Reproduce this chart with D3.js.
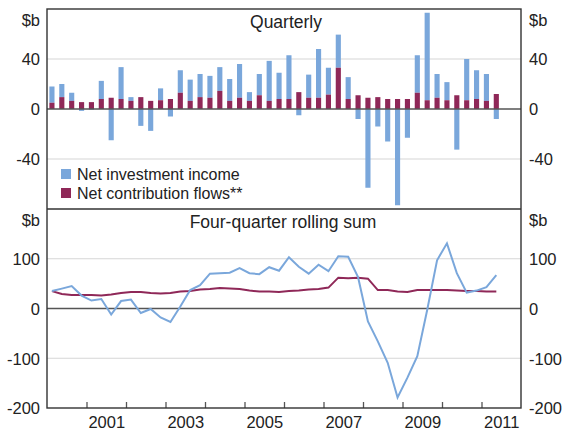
<!DOCTYPE html>
<html lang="en">
<head>
  <meta charset="UTF-8">
  <title>Net investment income and contribution flows</title>
  <script src="https://d3js.org/d3.v7.min.js"></script>
  <style>
    body {
      margin: 0;
      background-color: #fff;
      font-family: "Liberation Sans", Arial, sans-serif;
    }
    .tick text {
      fill: #222;
    }
  </style>
</head>
<body>

<div id="chart"></div>

<script>
  // Quarterly data, 2000 Q1 to 2011 Q2 ($b)
  const income = [13, 10.5, 6.5, -1.5, -0.5, 14.5, -25, 25.5, 3, -13.5, -17.5, 9.5,
    -6, 18, 17, 18.5, 17.5, 19, 17.5, 27, 7, 17, 32, 21,
    35, -5, 18.5, 39, 21.5, 26.5, 17.5, -8, -63, -14, -26, -77,
    -23, 30, 70, 19, 14.5, -32.5, 33, 23, 21.5, -8];
  const contrib = [5, 9.5, 6.5, 5.5, 5.5, 8, 9, 8, 6.5, 9.5, 6.5, 7,
    8, 13, 6.5, 9.5, 9, 14.5, 6.5, 9, 6.5, 11, 6.5, 8,
    8, 13.5, 9, 9, 11.5, 33, 8, 11, 9, 9.5, 8, 8,
    8, 13, 7, 9, 7, 11, 7, 8, 6.5, 12];

  // Four-quarter rolling sums ($b)
  const incomeSum = [35, 40, 45, 26, 16, 19, -12, 15, 18, -9, -1, -18,
    -27, 4, 37, 47, 70, 71, 72, 81, 71, 69, 83, 76,
    103, 84, 70, 88, 75, 105, 104, 63, -26, -66, -109, -179,
    -139, -96, -3, 97, 131, 71, 32, 36, 43, 67];
  const contribSum = [35, 29, 27, 27, 27, 26, 28, 31, 33, 33, 31, 30,
    31, 34, 35, 38, 39, 41, 40, 39, 36, 34, 34, 33,
    35, 36, 38, 39, 42, 62, 61, 62, 60, 37, 37, 34,
    33, 37, 37, 37, 37, 36, 35, 35, 34, 34];

  const yearTicks = [2001, 2002, 2003, 2004, 2005, 2006, 2007, 2008, 2009, 2010, 2011];
  const yearLabels = [2001, 2003, 2005, 2007, 2009, 2011];

  const width = 564;
  const height = 435;
  const left = 47, right = 521;
  const top1 = 9, mid = 209, bottom2 = 408;

  const blue = "#7aa7db";
  const maroon = "#8f2858";
  const fontSize = 16.5;

  const svg = d3.select("#chart")
    .append("svg")
    .attr("width", width)
    .attr("height", height)
    .style("font-family", "'Liberation Sans', Arial, sans-serif");

  const quarterX = i => 2000 + (i + 0.5) / 4;

  const x = d3.scaleLinear().domain([2000, 2012]).range([left, right]);
  const y1 = d3.scaleLinear().domain([-80, 80]).range([mid, top1]);
  const y2 = d3.scaleLinear().domain([-200, 200]).range([bottom2, mid]);

  const barW = (x(2000.25) - x(2000)) * 0.52;

  // gridlines
  svg.append("g")
    .selectAll("line")
    .data([40, -40])
    .enter().append("line")
    .attr("x1", left).attr("x2", right)
    .attr("y1", d => y1(d)).attr("y2", d => y1(d))
    .attr("stroke", "#d6d6d6").attr("stroke-width", 1.2);

  svg.append("g")
    .selectAll("line")
    .data([100, -100])
    .enter().append("line")
    .attr("x1", left).attr("x2", right)
    .attr("y1", d => y2(d)).attr("y2", d => y2(d))
    .attr("stroke", "#d6d6d6").attr("stroke-width", 1.2);

  // stacked bars: contributions from zero, income stacked on top when positive
  const quarters = income.map((v, i) => ({ i: i, inc: v, con: contrib[i] }));

  svg.append("g")
    .selectAll("rect")
    .data(quarters)
    .enter().append("rect")
    .attr("x", d => x(quarterX(d.i)) - barW / 2)
    .attr("width", barW)
    .attr("y", d => d.inc >= 0 ? y1(d.con + d.inc) : y1(0))
    .attr("height", d => d.inc >= 0 ? y1(d.con) - y1(d.con + d.inc) : y1(d.inc) - y1(0))
    .attr("fill", blue);

  svg.append("g")
    .selectAll("rect")
    .data(quarters)
    .enter().append("rect")
    .attr("x", d => x(quarterX(d.i)) - barW / 2)
    .attr("width", barW)
    .attr("y", d => y1(d.con))
    .attr("height", d => y1(0) - y1(d.con))
    .attr("fill", maroon);

  // zero lines
  svg.append("line")
    .attr("x1", left).attr("x2", right)
    .attr("y1", y1(0)).attr("y2", y1(0))
    .attr("stroke", "#555").attr("stroke-width", 1.4);
  svg.append("line")
    .attr("x1", left).attr("x2", right)
    .attr("y1", y2(0)).attr("y2", y2(0))
    .attr("stroke", "#555").attr("stroke-width", 1.4);

  // rolling sum lines
  const line = d3.line()
    .x((d, i) => x(quarterX(i)))
    .y(d => y2(d));

  svg.append("path")
    .datum(contribSum)
    .attr("d", line)
    .attr("fill", "none")
    .attr("stroke", maroon)
    .attr("stroke-width", 2);

  svg.append("path")
    .datum(incomeSum)
    .attr("d", line)
    .attr("fill", "none")
    .attr("stroke", blue)
    .attr("stroke-width", 2);

  // year ticks (inside, bottom panel)
  svg.append("g")
    .attr("transform", `translate(0,${bottom2})`)
    .call(d3.axisBottom(x).tickValues(yearTicks).tickSize(-6).tickFormat(""))
    .call(g => g.select(".domain").remove())
    .call(g => g.selectAll(".tick line").attr("stroke", "#555").attr("stroke-width", 1.3));

  svg.append("g")
    .attr("transform", `translate(0,${bottom2})`)
    .call(d3.axisBottom(x).tickValues(yearLabels.map(d => d + 0.5)).tickSize(0).tickPadding(8)
      .tickFormat(d => Math.floor(d)))
    .call(g => g.select(".domain").remove())
    .call(g => g.selectAll("text").attr("font-size", fontSize).attr("font-family", null));

  // value axes, both sides
  function valueAxis(axis, scale, values, topVal, xPos, pad) {
    svg.append("g")
      .attr("transform", `translate(${xPos},0)`)
      .call(axis(scale).tickValues(values).tickSize(0).tickPadding(pad)
        .tickFormat(d => d === topVal ? "$b" : d))
      .call(g => g.select(".domain").remove())
      .call(g => g.selectAll("text")
        .attr("font-size", fontSize)
        .attr("font-family", null)
        .attr("dy", d => d === topVal ? "1.0em" : "0.36em"));
  }
  valueAxis(d3.axisLeft, y1, [80, 40, 0, -40], 80, left, 7);
  valueAxis(d3.axisRight, y1, [80, 40, 0, -40], 80, right, 8);
  valueAxis(d3.axisLeft, y2, [200, 100, 0, -100, -200], 200, left, 7);
  valueAxis(d3.axisRight, y2, [200, 100, 0, -100, -200], 200, right, 8);

  // panel frame
  svg.append("rect")
    .attr("x", left).attr("y", top1)
    .attr("width", right - left).attr("height", bottom2 - top1)
    .attr("fill", "none").attr("stroke", "#333").attr("stroke-width", 1.4);
  svg.append("line")
    .attr("x1", left).attr("x2", right)
    .attr("y1", mid).attr("y2", mid)
    .attr("stroke", "#333").attr("stroke-width", 1.4);

  // panel titles
  svg.append("text")
    .attr("x", (left + right) / 2 + 2).attr("y", 28)
    .attr("text-anchor", "middle")
    .attr("font-size", 17.5).attr("fill", "#222")
    .text("Quarterly");
  svg.append("text")
    .attr("x", (left + right) / 2 - 1).attr("y", 228)
    .attr("text-anchor", "middle")
    .attr("font-size", 17.5).attr("fill", "#222")
    .text("Four-quarter rolling sum");

  // legend
  const legend = svg.append("g");
  [["Net investment income", blue], ["Net contribution flows**", maroon]].forEach((d, i) => {
    legend.append("rect")
      .attr("x", 61).attr("y", 169 + i * 19)
      .attr("width", 10).attr("height", 10)
      .attr("fill", d[1]);
    legend.append("text")
      .attr("x", 77).attr("y", 180 + i * 19)
      .attr("font-size", 16).attr("fill", "#222")
      .text(d[0]);
  });
</script>

</body>
</html>
